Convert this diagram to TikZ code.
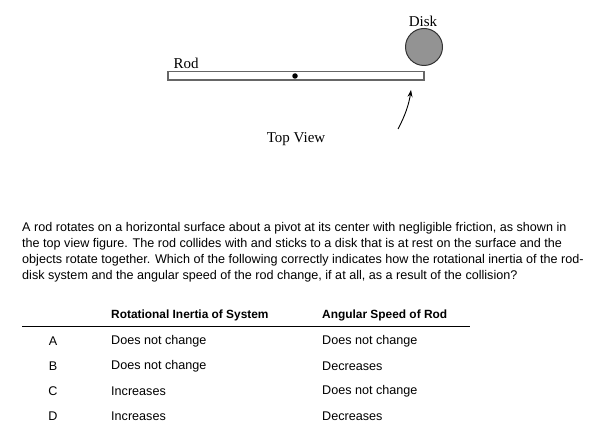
\documentclass[tikz,border=0pt]{standalone}
\usepackage{fontspec}
\usetikzlibrary{arrows.meta}
\setmainfont{Liberation Sans}
\newfontfamily\serifl{Liberation Serif}
\begin{document}
\begin{tikzpicture}[x=1pt,y=-1pt,
  lbl/.style={font=\serifl\fontsize{15}{17}\selectfont,inner sep=0pt},
  body/.style={font=\fontsize{12.6}{14}\selectfont,inner sep=0pt,anchor=west},
  hd/.style={font=\bfseries\fontsize{11.9}{14}\selectfont,inner sep=0pt,anchor=west}]
\useasboundingbox (0,0) rectangle (601,446);
\draw[gray!80!black,line width=1.3pt,fill=white] (168,71.5) rectangle (424,80) coordinate (rodend);
\node[circle,fill=black,inner sep=0pt,minimum size=5.5pt] (pivot) at (295,76) {};
\node[circle,draw=black!80,line width=1pt,fill=gray!85!white,minimum size=37pt,inner sep=0pt] (disk) at (424,47) {};
\node[lbl] (disklbl) at (423,21) {Disk};
\node[lbl] (rodlbl) at (186,63) {Rod};
\node[lbl] (tv) at (296,139) {Top View};
\coordinate (a0) at (398,129);
\coordinate (a1) at (411,90);
\draw[line width=0.9pt,-{Stealth[length=7pt,width=5pt]}] (a0) .. controls (405,116) and (409,104) .. (a1);
\node[body] (l1) at (22,228) {A rod rotates on a horizontal surface about a pivot at its center with negligible friction, as shown in};
\node[body] (l2) at (22,244) {the top view figure. The rod collides with and sticks to a disk that is at rest on the surface and the};
\node[body] (l3) at (22,260) {objects rotate together. Which of the following correctly indicates how the rotational inertia of the rod-};
\node[body] (l4) at (22,276) {disk system and the angular speed of the rod change, if at all, as a result of the collision?};
\node[hd] (h1) at (111,315) {Rotational Inertia of System};
\node[hd] (h2) at (322,315) {Angular Speed of Rod};
\draw[black,line width=0.8pt] (22,326) -- (470,326);
\foreach \L/\A/\B [count=\i] in {A/Does not change/Does not change, B/Does not change/Decreases, C/Increases/Does not change, D/Increases/Decreases}{
  \node[body,anchor=center] (r\i) at (53,316+25*\i) {\L};
  \node[body] (ra\i) at (111,316+25*\i) {\A};
  \node[body] (rb\i) at (322,316+25*\i) {\B};
}
\end{tikzpicture}
\end{document}
